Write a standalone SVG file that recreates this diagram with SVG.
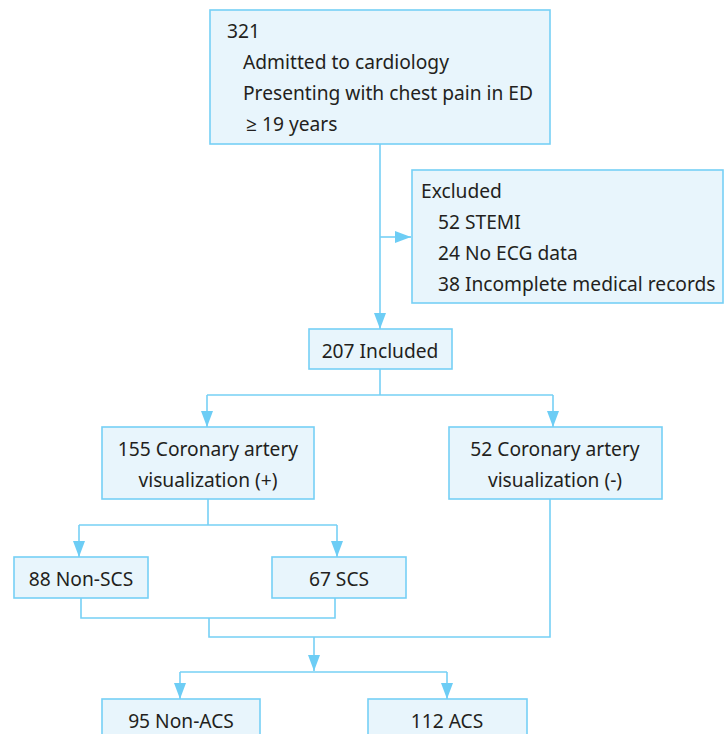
<svg xmlns="http://www.w3.org/2000/svg" width="728" height="734" viewBox="0 0 728 734">
<defs>
<style>
.box{fill:#e8f5fc;stroke:#76d0f5;stroke-width:1.6}
.ln{fill:none;stroke:#76d0f5;stroke-width:1.6}
text{font-family:"Noto Sans","Open Sans","DejaVu Sans",sans-serif;font-size:19.2px;fill:#231f20}
.c{text-anchor:middle}
</style>
<marker id="ah" viewBox="0 0 16 12" refX="16" refY="6" markerWidth="16" markerHeight="12" markerUnits="userSpaceOnUse" orient="auto">
<path d="M0,0 L16,6 L0,12 Z" fill="#6dcdf5"/>
</marker>
</defs>
<rect width="728" height="734" fill="#ffffff"/>
<g id="connectors">
<path class="ln" d="M380,144 V329" marker-end="url(#ah)"/>
<path class="ln" d="M380,237 H411" marker-end="url(#ah)"/>
<path class="ln" d="M380,369 V395"/>
<path class="ln" d="M207,395 H553"/>
<path class="ln" d="M207,395 V427" marker-end="url(#ah)"/>
<path class="ln" d="M553,395 V427" marker-end="url(#ah)"/>
<path class="ln" d="M208,499 V525"/>
<path class="ln" d="M79,525 H337"/>
<path class="ln" d="M79,525 V557" marker-end="url(#ah)"/>
<path class="ln" d="M337,525 V557" marker-end="url(#ah)"/>
<path class="ln" d="M81,598 V618 H335 V598"/>
<path class="ln" d="M209,618 V637 H550 V499"/>
<path class="ln" d="M314,637 V671" marker-end="url(#ah)"/>
<path class="ln" d="M180,672 H447"/>
<path class="ln" d="M180,672 V699" marker-end="url(#ah)"/>
<path class="ln" d="M447,672 V699" marker-end="url(#ah)"/>
</g>
<g id="n321">
<rect class="box" x="210" y="10" width="340" height="134"/>
<text x="227" y="38">321</text>
<text x="243" y="69">Admitted to cardiology</text>
<text x="243" y="100">Presenting with chest pain in ED</text>
<text x="246" y="131">≥ 19 years</text>
</g>
<g id="excluded">
<rect class="box" x="412" y="170" width="311" height="133"/>
<text x="421" y="198">Excluded</text>
<text x="438" y="229">52 STEMI</text>
<text x="438" y="260">24 No ECG data</text>
<text x="438" y="291">38 Incomplete medical records</text>
</g>
<g id="included">
<rect class="box" x="309" y="329" width="143" height="40"/>
<text class="c" x="380" y="358">207 Included</text>
</g>
<g id="cav_pos">
<rect class="box" x="102" y="427" width="212" height="72"/>
<text class="c" x="208" y="456">155 Coronary artery</text>
<text class="c" x="208" y="487">visualization (+)</text>
</g>
<g id="cav_neg">
<rect class="box" x="449" y="427" width="213" height="72"/>
<text class="c" x="555" y="456">52 Coronary artery</text>
<text class="c" x="555" y="487">visualization (-)</text>
</g>
<g id="nonscs">
<rect class="box" x="14" y="557" width="134" height="41"/>
<text class="c" x="81" y="586">88 Non-SCS</text>
</g>
<g id="scs">
<rect class="box" x="272" y="557" width="134" height="41"/>
<text class="c" x="339" y="586">67 SCS</text>
</g>
<g id="nonacs">
<rect class="box" x="102" y="699" width="158" height="45"/>
<text class="c" x="181" y="728">95 Non-ACS</text>
</g>
<g id="acs">
<rect class="box" x="368" y="699" width="159" height="45"/>
<text class="c" x="447" y="728">112 ACS</text>
</g>
</svg>
